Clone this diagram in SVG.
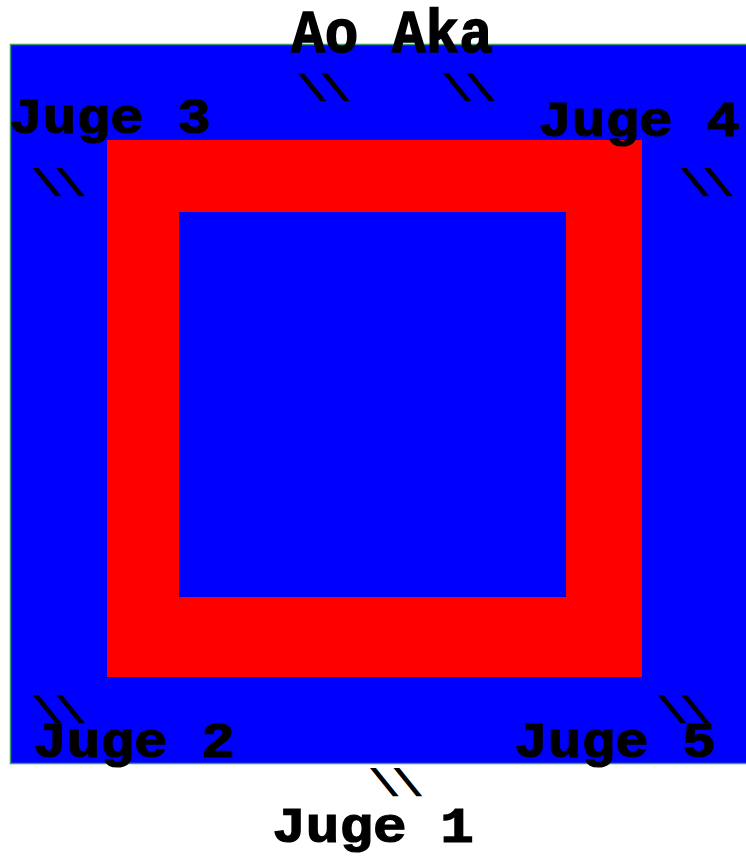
<svg xmlns="http://www.w3.org/2000/svg" width="746" height="864" viewBox="0 0 746 864">
<style>
.lbl{font-family:"Liberation Mono","Courier New",monospace;font-weight:bold;font-size:56px;fill:#000;stroke:#000;stroke-width:1.4;text-anchor:middle}
.flag{font-family:"Liberation Mono","Courier New",monospace;font-weight:bold;font-size:36px;fill:#000;stroke:#000;stroke-width:1.6;letter-spacing:2px}
</style>
<rect width="746" height="864" fill="#fff"/>
<g id="tatami">
<rect x="10.5" y="44.5" width="760" height="719" fill="#0000ff" stroke="#3a9a6a" stroke-width="1.5"/>
<rect x="107" y="140" width="535" height="537" fill="#ff0000"/>
<rect x="179" y="212" width="387" height="385" fill="#0000ff"/>
</g>
<g id="ao-aka"><text class="lbl" transform="translate(392,52) scale(1,1.1)">Ao Aka</text>
<text class="flag" transform="translate(305,100) skewX(15)">\\</text><text class="flag" transform="translate(450,100) skewX(15)">\\</text></g>
<g id="juge3"><text class="lbl" transform="translate(110,133) scale(1,0.88)">Juge 3</text>
<text class="flag" transform="translate(40,195) skewX(15)">\\</text></g>
<g id="juge4"><text class="lbl" transform="translate(639,136) scale(1,0.88)">Juge 4</text>
<text class="flag" transform="translate(688,195) skewX(15)">\\</text></g>
<g id="juge2"><text class="lbl" transform="translate(134,757) scale(1,0.88)">Juge 2</text>
<text class="flag" transform="translate(40,722) skewX(15)">\\</text></g>
<g id="juge5"><text class="lbl" transform="translate(615,757) scale(1,0.88)">Juge 5</text>
<text class="flag" transform="translate(665,722) skewX(15)">\\</text></g>
<g id="juge1"><text class="lbl" transform="translate(373,842) scale(1,0.88)">Juge 1</text>
<text class="flag" transform="translate(377,795) skewX(15)">\\</text></g>
</svg>
